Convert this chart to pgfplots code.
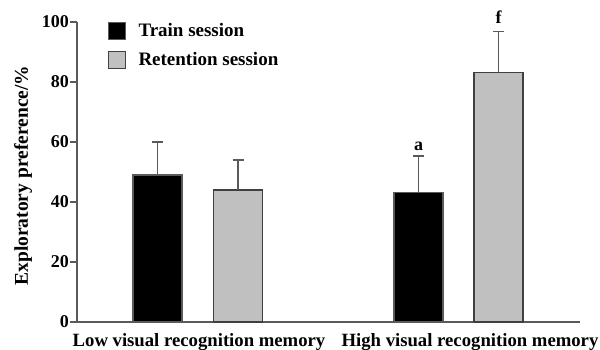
\documentclass[border=0pt]{standalone}
\usepackage{fontspec}
\setmainfont{Liberation Serif}
\usepackage{pgfplots}
\pgfplotsset{compat=1.18}
\definecolor{axgray}{RGB}{90,90,90}
\definecolor{bargray}{RGB}{192,192,192}
\begin{document}
\begin{tikzpicture}
\begin{axis}[
  scale only axis, width=503pt, height=300pt,
  xmin=0, xmax=503, ymin=0, ymax=100,
  axis x line=bottom, axis y line=left,
  axis line style={-, draw=axgray, line width=1.3pt},
  clip=false,
  xtick={122,393},
  xticklabels={Low visual recognition memory, High visual recognition memory},
  xtick style={draw=none},
  ytick={0,20,40,60,80,100},
  ytick style={draw=axgray, line width=1.3pt},
  tick align=outside, major tick length=7pt,
  /pgf/number format/assume math mode=true,
  yticklabel style={inner sep=1pt, font=\fontsize{18}{20}\selectfont\bfseries},
  xticklabel style={yshift=-1pt, font=\fontsize{18.7}{20}\selectfont\bfseries},
  ylabel={Exploratory preference/\%},
  ylabel style={font=\fontsize{19.5}{21}\selectfont\bfseries, at={(axis description cs:-0.107,0.488)}, anchor=center},
  legend style={at={(axis cs:31,100.3)}, anchor=north west, draw=none, fill=none,
    font=\fontsize{19}{21}\selectfont\bfseries, row sep=10.5pt, inner sep=0pt, legend cell align=left},
  legend image code/.code={\draw[#1] (0pt,-8.5pt) rectangle (17pt,8.5pt);},
]
\addplot[ybar, bar width=49, bar shift=0pt, fill=black, draw=axgray, line width=1.2pt,
  error bars/.cd, y dir=plus, y explicit, error mark=|,
  error mark options={mark size=5.5pt, line width=1.4pt, draw=axgray},
  error bar style={line width=1.4pt, draw=axgray}]
  coordinates {(80.5,49) +- (0,11) (341.5,43.1) +- (0,12.2)};
\addlegendentry{\hspace{10pt}Train session}
\addplot[ybar, bar width=49, bar shift=0pt, fill=bargray, draw=black!75, line width=1.3pt,
  error bars/.cd, y dir=plus, y explicit, error mark=|,
  error mark options={mark size=5.5pt, line width=1.4pt, draw=axgray},
  error bar style={line width=1.4pt, draw=axgray}]
  coordinates {(161,44) +- (0,10) (421.5,83.2) +- (0,13.6)};
\addlegendentry{\hspace{10pt}Retention session}
\node[font=\fontsize{18}{20}\selectfont\bfseries] at (axis cs:341.5,58.5) {a};
\node[font=\fontsize{18}{20}\selectfont\bfseries] at (axis cs:421.5,101.5) {f};
\end{axis}
\pgfresetboundingbox
\path[use as bounding box] (-77pt,-27pt) rectangle (523pt,322pt);
\end{tikzpicture}
\end{document}
